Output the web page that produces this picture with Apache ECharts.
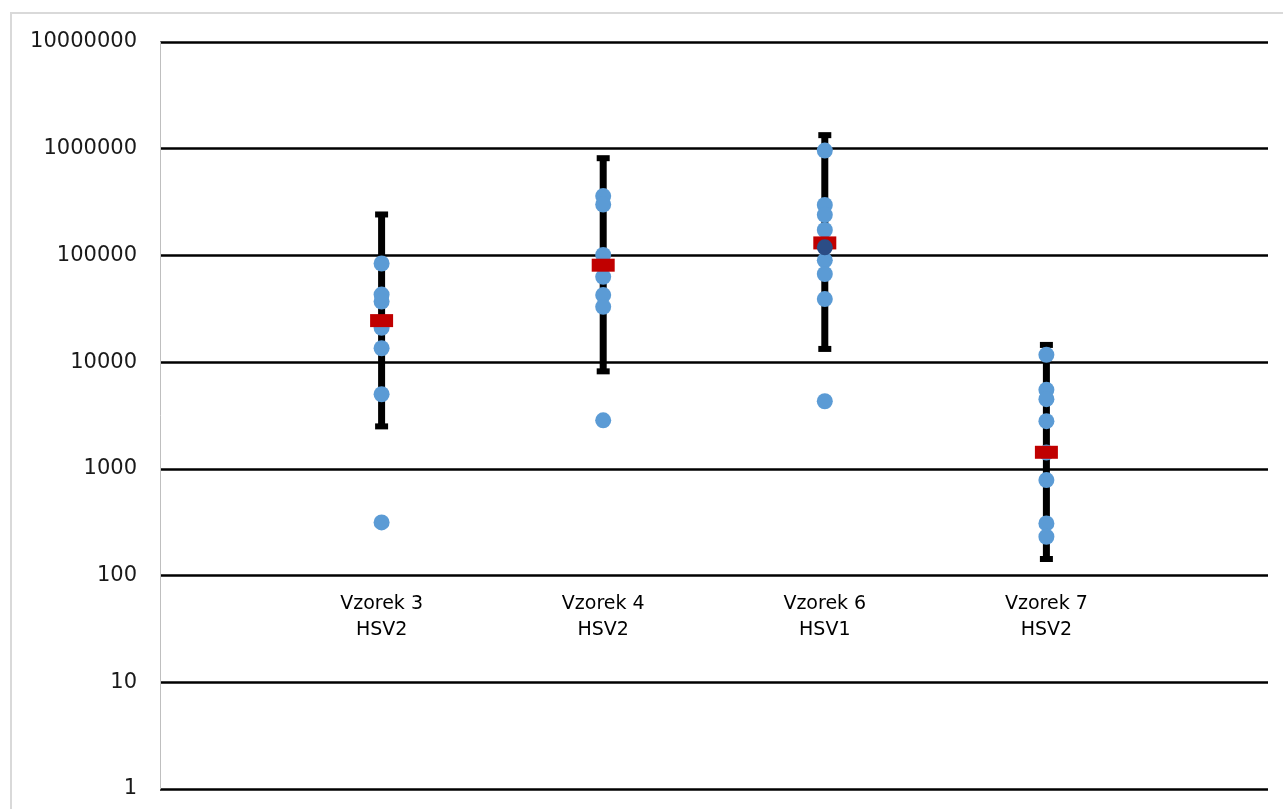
<!DOCTYPE html>
<html>
<head>
<meta charset="utf-8">
<script src="https://cdn.jsdelivr.net/npm/echarts@6/dist/echarts.min.js"></script>
<style>
html,body{margin:0;padding:0;background:#fff;}
#chart{width:1283px;height:809px;}
</style>
</head>
<body>
<div id="chart"></div>
<script>
// Categories (blank ends give the spacing of the original)
const categories = ['', 'Vzorek 3\nHSV2', 'Vzorek 4\nHSV2', 'Vzorek 6\nHSV1', 'Vzorek 7\nHSV2', ''];
// Individual measurements per sample
const vzorek3 = [84000, 43000, 37000, 21000, 13500, 5000, 315];
const vzorek4 = [360000, 300000, 101000, 63000, 42500, 33000, 2850];
const vzorek6 = [960000, 297000, 240000, 173000, 90000, 67000, 39000, 4300];
const vzorek7 = [11700, 5500, 4500, 2800, 1420, 785, 308, 231];
// Highlighted point (sample 6)
const highlighted = [119000];
// Central values (red markers)
const centers = [24500, 81000, 131000, 1430];
// Error bar limits
const lows = [2500, 8200, 13300, 143];
const highs = [242000, 815000, 1340000, 14500];
// Y tick labels
const yTicks = [1, 10, 100, 1000, 10000, 100000, 1000000, 10000000];

const samples = [vzorek3, vzorek4, vzorek6, vzorek7];
const pointData = [];
samples.forEach((arr, i) => arr.forEach(v => pointData.push([i + 1, v])));
const centerData = centers.map((v, i) => [i + 1, v]);
const barData = lows.map((lo, i) => [i + 1, lo, highs[i]]);
const highData = highlighted.map(v => [3, v]);

const chart = echarts.init(document.getElementById('chart'));
chart.setOption({
  animation: false,
  backgroundColor: '#ffffff',
  graphic: [{
    type: 'rect',
    shape: {x: 11, y: 13, width: 1300, height: 900},
    style: {fill: 'none', stroke: '#d9d9d9', lineWidth: 2},
    silent: true, z: -10
  }],
  grid: {left: 160, right: 15, top: 42, bottom: 20, containLabel: false},
  xAxis: {
    type: 'category',
    data: categories,
    boundaryGap: false,
    offset: -214,
    axisLine: {show: false},
    axisTick: {show: false},
    splitLine: {show: false},
    axisLabel: {
      interval: 0,
      fontFamily: 'DejaVu Sans',
      fontSize: 19,
      lineHeight: 26,
      color: '#000',
      margin: 16
    }
  },
  yAxis: {
    type: 'log',
    logBase: 10,
    min: yTicks[0],
    max: yTicks[yTicks.length - 1],
    axisLine: {show: true, lineStyle: {color: '#bfbfbf', width: 1}},
    axisTick: {show: false},
    splitLine: {show: true, lineStyle: {color: '#000', width: 2.5}},
    axisLabel: {
      fontFamily: 'DejaVu Sans',
      fontSize: 21,
      color: '#1a1a1a',
      margin: 23,
      formatter: v => String(Math.round(v))
    }
  },
  series: [
    {
      type: 'custom',
      z: 2,
      data: barData,
      renderItem: function (params, api) {
        const x = api.value(0);
        const top = api.coord([x, api.value(2)]);
        const bot = api.coord([x, api.value(1)]);
        const capW = 13, capH = 6, w = 7;
        return {
          type: 'group',
          children: [
            {type: 'rect', shape: {x: top[0] - w / 2, y: top[1], width: w, height: bot[1] - top[1]}, style: {fill: '#000'}},
            {type: 'rect', shape: {x: top[0] - capW / 2, y: top[1] - capH / 2, width: capW, height: capH}, style: {fill: '#000'}},
            {type: 'rect', shape: {x: bot[0] - capW / 2, y: bot[1] - capH / 2, width: capW, height: capH}, style: {fill: '#000'}}
          ]
        };
      }
    },
    {
      type: 'scatter',
      z: 3,
      data: pointData,
      symbol: 'circle',
      symbolSize: 16,
      itemStyle: {color: '#5B9BD5', opacity: 1}
    },
    {
      type: 'scatter',
      z: 4,
      data: centerData,
      symbol: 'rect',
      symbolSize: [23, 13],
      itemStyle: {color: '#C00000', opacity: 1, borderRadius: 3}
    },
    {
      type: 'scatter',
      z: 5,
      data: highData,
      symbol: 'circle',
      symbolSize: 16,
      itemStyle: {color: '#2B4D86', opacity: 1}
    }
  ]
});
</script>
</body>
</html>
